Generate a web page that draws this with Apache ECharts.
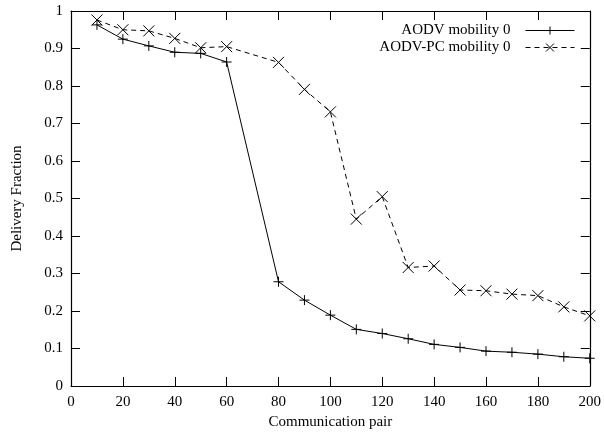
<!DOCTYPE html>
<html>
<head>
<meta charset="utf-8">
<script src="https://cdn.jsdelivr.net/npm/echarts@6/dist/echarts.min.js"></script>
<style>html,body{margin:0;padding:0;background:#fff}#c{width:604px;height:435px}</style>
</head>
<body>
<div id="c"></div>
<script>
var pairs = [10, 20, 30, 40, 50, 60, 80, 90, 100, 110, 120, 130, 140, 150, 160, 170, 180, 190, 200];
var aodv = [0.963, 0.925, 0.907, 0.890, 0.887, 0.864, 0.278, 0.229, 0.189, 0.151, 0.140, 0.126, 0.111, 0.103, 0.093, 0.090, 0.085, 0.078, 0.074];
var aodvPC = [0.976, 0.950, 0.947, 0.927, 0.902, 0.905, 0.863, 0.791, 0.731, 0.445, 0.505, 0.316, 0.320, 0.256, 0.254, 0.245, 0.241, 0.211, 0.187];
var xTicks = [0, 20, 40, 60, 80, 100, 120, 140, 160, 180, 200];
var yTicks = [0, 0.1, 0.2, 0.3, 0.4, 0.5, 0.6, 0.7, 0.8, 0.9, 1];
var seriesNames = ['AODV mobility 0', 'AODV-PC mobility 0'];
var xName = 'Communication pair';
var yName = 'Delivery Fraction';

function zip(xs, ys) { return xs.map(function (x, i) { return [x, ys[i]]; }); }

var FONT = '"Liberation Serif", "DejaVu Serif", serif';
var PLUS = 'path://M5,0L5,10M0,5L10,5';
var CROSS = 'path://M0,0L10,10M10,0L0,10';

var chart = echarts.init(document.getElementById('c'), null, { renderer: 'canvas' });
var axisCommon = {
  type: 'value',
  splitLine: { show: false },
  axisLine: { show: true, onZero: false, lineStyle: { color: '#000', width: 1.2 } },
  axisTick: { show: true, inside: true, length: 9, lineStyle: { color: '#000', width: 1 } }
};
chart.setOption({
  animation: false,
  backgroundColor: '#fff',
  textStyle: { fontFamily: FONT, color: '#000' },
  grid: { left: 71, right: 11, top: 11, bottom: 49, containLabel: false },
  legend: {
    right: 24, top: 18, orient: 'vertical', align: 'right',
    itemWidth: 49, itemHeight: 10, itemGap: 2,
    lineStyle: { width: 1 },
    itemStyle: { borderWidth: 1 },
    textStyle: { fontFamily: FONT, fontSize: 15, color: '#000', padding: [0, 10, 0, 0] },
    data: seriesNames
  },
  xAxis: [
    Object.assign({}, axisCommon, {
      position: 'bottom', min: xTicks[0], max: xTicks[xTicks.length - 1], interval: 20,
      name: xName, nameLocation: 'middle', nameGap: 25,
      nameTextStyle: { fontFamily: FONT, fontSize: 15, color: '#000' },
      axisLabel: { fontFamily: FONT, fontSize: 15, color: '#000', margin: 9 }
    }),
    Object.assign({}, axisCommon, {
      position: 'top', min: xTicks[0], max: xTicks[xTicks.length - 1], interval: 20,
      axisLabel: { show: false }
    })
  ],
  yAxis: [
    Object.assign({}, axisCommon, {
      position: 'left', min: yTicks[0], max: yTicks[yTicks.length - 1], interval: 0.1,
      name: yName, nameLocation: 'middle', nameGap: 46,
      nameTextStyle: { fontFamily: FONT, fontSize: 15, color: '#000' },
      axisLabel: { fontFamily: FONT, fontSize: 15, color: '#000', margin: 8 }
    }),
    Object.assign({}, axisCommon, {
      position: 'right', min: yTicks[0], max: yTicks[yTicks.length - 1], interval: 0.1,
      axisLabel: { show: false }
    })
  ],
  series: [
    {
      name: seriesNames[0], type: 'line', data: zip(pairs, aodv),
      symbol: PLUS, symbolSize: 10, showAllSymbol: true, clip: false,
      lineStyle: { color: '#000', width: 1, type: 'solid' },
      itemStyle: { color: '#000', borderColor: '#000', borderWidth: 1 }
    },
    {
      name: seriesNames[1], type: 'line', data: zip(pairs, aodvPC),
      symbol: CROSS, symbolSize: 11, showAllSymbol: true, clip: false,
      lineStyle: { color: '#000', width: 1, type: [5, 4] },
      itemStyle: { color: '#000', borderColor: '#000', borderWidth: 1 }
    }
  ]
});
</script>
</body>
</html>
